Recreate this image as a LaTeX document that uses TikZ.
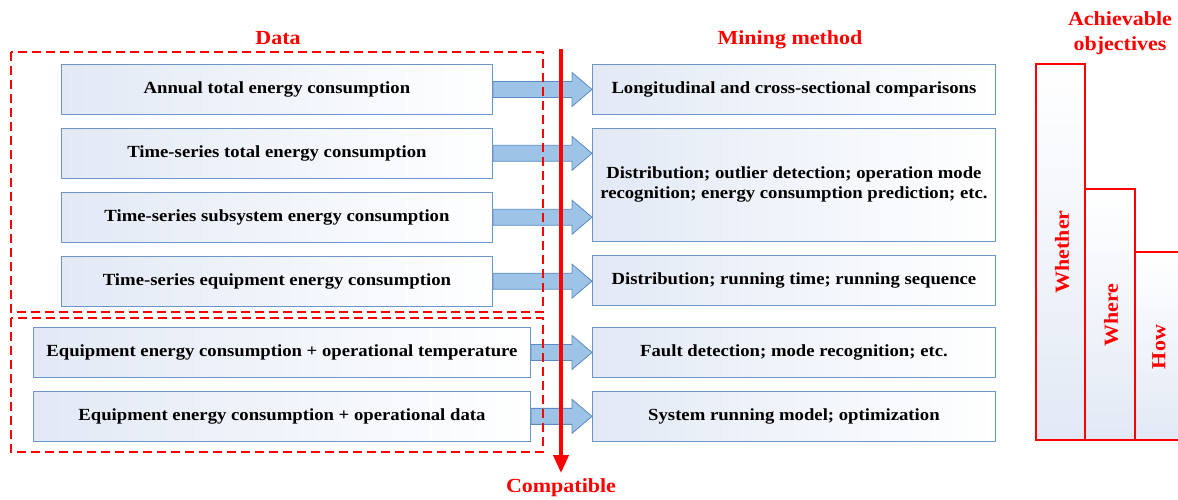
\documentclass[tikz,border=0pt]{standalone}
\usepackage{fontspec}
\setmainfont[FakeStretch=1.1]{Liberation Serif}
\usetikzlibrary{positioning,calc,arrows.meta}

\definecolor{boxedge}{HTML}{6C96C9}
\definecolor{boxfill}{HTML}{E2E9F5}
\definecolor{arrowfill}{HTML}{9DC3E6}
\definecolor{arrowedge}{HTML}{5B8BC4}

% block arrow from the east side of #1 to the west side of #2
\newcommand{\shiftarrow}[2]{%
  \path[flowarrow] let \p1=(#1.east), \p2=(#2.west) in
    (\x1,\y1+8pt) -- (\x2-20pt,\y1+8pt) -- (\x2-20pt,\y1+17pt) -- (\x2,\y1)
    -- (\x2-20pt,\y1-17pt) -- (\x2-20pt,\y1-8pt) -- (\x1,\y1-8pt) -- cycle;}

\begin{document}
\begin{tikzpicture}[
    x=1pt, y=-1pt,
    every node/.style={font=\fontsize{17}{20}\selectfont\bfseries},
    databox/.style={
        draw=boxedge,
        line width=0.9pt,
        left color=boxfill,
        right color=white,
        minimum height=50pt,
        inner sep=0pt,
        align=center
    },
    flowarrow/.style={draw=arrowedge, fill=arrowfill, line width=0.8pt},
    groupframe/.style={draw=red, dash pattern=on 9pt off 5pt, line width=1.3pt},
    redlabel/.style={text=red, font=\fontsize{20}{22}\selectfont\bfseries, align=center},
    objbar/.style={draw=red, line width=1.2pt, top color=white, bottom color=boxfill}
]
\useasboundingbox (0,0) rectangle (1178,500);

% data column
\node[databox, minimum width=431pt, anchor=north west] (d1) at (61,64)
    {Annual total energy consumption};
\node[databox, minimum width=431pt, below=13pt of d1] (d2)
    {Time-series total energy consumption};
\node[databox, minimum width=431pt, below=13pt of d2] (d3)
    {Time-series subsystem energy consumption};
\node[databox, minimum width=431pt, below=13pt of d3] (d4)
    {Time-series equipment energy consumption};
\node[databox, minimum width=497pt, anchor=north west] (d5) at (33,327)
    {Equipment energy consumption + operational temperature};
\node[databox, minimum width=497pt, below=13pt of d5] (d6)
    {Equipment energy consumption + operational data};

% mining method column
\node[databox, minimum width=403pt, anchor=north west] (m1) at (592,64)
    {Longitudinal and cross-sectional comparisons};
\node[databox, minimum width=403pt, minimum height=113pt, below=13pt of m1] (m23)
    {Distribution; outlier detection; operation mode\\recognition; energy consumption prediction; etc.};
\node[databox, minimum width=403pt, below=13pt of m23] (m4)
    {Distribution; running time; running sequence};
\node[databox, minimum width=403pt, anchor=north west] (m5) at (592,327)
    {Fault detection; mode recognition; etc.};
\node[databox, minimum width=403pt, below=13pt of m5] (m6)
    {System running model; optimization};

% arrows
\shiftarrow{d1}{m1}
\shiftarrow{d2}{m23}
\shiftarrow{d3}{m23}
\shiftarrow{d4}{m4}
\shiftarrow{d5}{m5}
\shiftarrow{d6}{m6}

% dashed groups
\draw[groupframe] (11,52) rectangle (543,312);
\draw[groupframe] (11,318) rectangle (543,452);

% headings
\node[redlabel] (data) at (278,38) {Data};
\node[redlabel] (mining) at (790,40) {Mining method};
\node[redlabel, font=\fontsize{20}{25}\selectfont\bfseries] (goal) at (1120,33) {Achievable\\objectives};

% compatibility line
\node[redlabel] (compat) at (561,488) {Compatible};
\coordinate (ctop) at (561,49);
\coordinate (cbot) at (561,473);
\draw[red, line width=4pt, -{Triangle[length=18pt,width=15pt]}] (ctop) -- (cbot);

% objectives
\draw[objbar] (1036,64) rectangle (1085,440);
\draw[objbar] (1085,189) rectangle (1135,440);
\fill[top color=white, bottom color=boxfill] (1135,252) rectangle (1178,440);
\draw[red, line width=1.2pt] (1178,252) -- (1135,252) -- (1135,440) -- (1178,440);
\node[redlabel, rotate=90] (whether) at (1062,252) {Whether};
\node[redlabel, rotate=90] (where) at (1111,315) {Where};
\node[redlabel, rotate=90] (how) at (1159,347) {How};
\end{tikzpicture}
\end{document}
